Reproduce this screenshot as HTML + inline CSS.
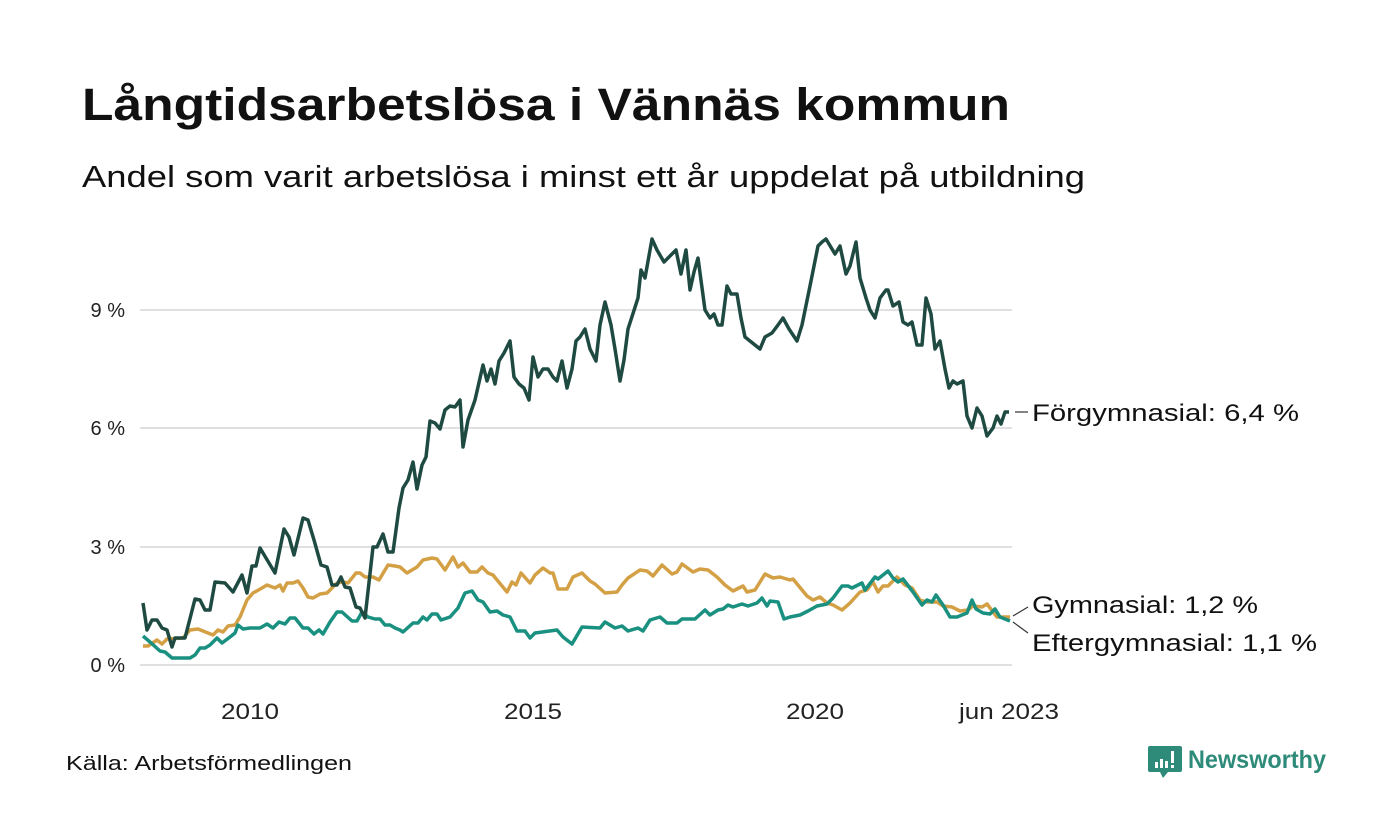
<!DOCTYPE html>
<html><head><meta charset="utf-8"><style>
html,body{margin:0;padding:0;background:#fff;}
svg{display:block;font-family:"Liberation Sans",sans-serif;}
</style></head><body>
<svg width="1400" height="840" viewBox="0 0 1400 840">
<rect width="1400" height="840" fill="#fff"/>
<text x="82" y="120" font-size="45" font-weight="bold" fill="#111" textLength="928" lengthAdjust="spacingAndGlyphs">Långtidsarbetslösa i Vännäs kommun</text>
<text x="82" y="187" font-size="31" fill="#111" textLength="1003" lengthAdjust="spacingAndGlyphs">Andel som varit arbetslösa i minst ett år uppdelat på utbildning</text>
<g stroke="#e0e0e3" stroke-width="2">
<line x1="140" y1="665" x2="1012" y2="665"/>
<line x1="140" y1="547" x2="1012" y2="547"/>
<line x1="140" y1="428" x2="1012" y2="428"/>
<line x1="140" y1="310" x2="1012" y2="310"/>
</g>
<g font-size="20" fill="#222" text-anchor="end">
<text x="125" y="672">0 %</text>
<text x="125" y="554">3 %</text>
<text x="125" y="435">6 %</text>
<text x="125" y="317">9 %</text>
</g>
<g font-size="22" fill="#222" text-anchor="middle">
<text x="250" y="719" textLength="58" lengthAdjust="spacingAndGlyphs">2010</text>
<text x="533" y="719" textLength="58" lengthAdjust="spacingAndGlyphs">2015</text>
<text x="815" y="719" textLength="58" lengthAdjust="spacingAndGlyphs">2020</text>
<text x="1009" y="719" textLength="100" lengthAdjust="spacingAndGlyphs">jun 2023</text>
</g>
<g fill="none" stroke-width="3.5" stroke-linejoin="round">
<polyline stroke="#d4a045" points="143,646 148,646 157,640 162,644 167,639 183,638 190,630 198,629 213,635 218,630 223,632 228,626 235,625 240,617 247,600 253,593 262,588 267,585 275,588 280,585 283,591 287,583 293,583 298,581 303,588 308,597 313,598 320,594 327,593 332,588 337,583 343,582 348,583 356,573 360,573 365,577 373,577 379,580 388,565 395,566 400,567 407,573 417,567 423,560 432,558 437,559 445,570 453,557 458,567 463,563 470,572 477,572 482,567 488,573 493,575 507,592 512,582 516,585 521,573 530,583 535,575 543,568 550,573 553,573 558,589 567,589 573,577 582,573 590,581 595,584 605,593 617,592 622,585 628,578 640,570 647,571 653,576 662,565 672,574 677,572 682,564 693,572 700,569 708,570 717,577 725,585 733,591 743,586 747,592 755,590 765,574 773,578 780,577 790,580 793,579 807,596 813,600 820,597 827,603 833,605 842,610 850,603 860,592 867,590 873,582 878,592 883,586 888,586 897,577 905,585 912,588 920,600 927,602 937,602 943,606 952,607 960,611 968,610 973,606 982,607 987,604 997,617 1010,617"/>
<polyline stroke="#1a9080" points="143,636 150,642 160,651 165,652 172,658 190,658 195,655 200,648 205,648 210,645 217,638 222,643 230,637 235,633 238,625 243,629 250,628 260,628 267,624 273,628 279,622 285,624 290,618 295,618 303,628 308,628 314,634 319,630 323,634 330,622 337,612 342,612 352,621 357,621 362,612 368,617 375,619 380,619 385,625 390,625 395,628 400,630 403,632 413,623 418,623 423,617 427,620 432,614 437,614 441,620 450,617 458,608 465,593 472,591 478,600 483,602 490,612 497,611 503,615 510,617 517,631 525,631 530,638 535,633 557,630 563,637 572,644 582,627 600,628 605,622 615,628 622,626 628,631 638,628 643,631 650,620 660,617 667,623 677,623 682,619 695,619 705,610 710,615 718,610 723,609 728,605 733,607 742,604 748,606 757,603 762,598 767,606 770,601 778,602 784,619 790,617 800,615 808,611 817,606 827,604 833,598 842,586 848,586 852,588 862,583 865,590 875,577 878,579 888,571 893,578 898,582 903,579 913,592 922,605 927,600 932,602 936,595 943,605 950,617 957,617 967,613 972,600 976,609 983,613 990,614 995,609 1000,617 1010,621"/>
<polyline stroke="#1f4a42" points="143,603 147,630 152,620 157,620 162,628 167,630 172,647 175,638 185,638 195,599 200,600 205,610 210,610 215,582 225,583 233,592 242,575 247,593 252,566 256,566 260,548 275,573 284,529 289,537 294,555 303,518 308,520 314,540 321,565 327,567 332,585 337,585 341,577 345,587 350,588 356,607 360,608 365,618 373,547 377,547 383,534 388,552 393,552 399,508 403,488 408,480 413,462 417,489 422,465 426,457 430,421 435,423 440,429 445,410 450,406 455,407 460,400 463,447 468,420 475,400 483,365 487,381 491,369 495,384 499,361 504,353 510,341 514,377 519,384 524,388 529,400 533,357 538,377 543,369 548,369 553,377 557,381 562,361 567,388 572,369 576,341 580,337 585,329 590,349 596,361 600,325 605,302 611,325 615,349 620,381 624,360 628,329 638,298 641,270 645,278 652,239 657,250 664,262 676,250 681,274 686,250 690,290 694,272 698,258 705,310 710,318 714,314 718,325 722,325 727,286 731,294 737,294 741,318 745,337 755,345 760,349 765,337 772,333 778,325 783,318 789,329 797,341 802,325 810,286 818,246 822,242 826,239 835,254 840,246 846,274 850,266 856,242 860,278 866,298 870,310 875,318 880,298 886,290 888,290 893,306 899,302 903,322 908,325 912,322 917,345 922,345 926,298 931,314 935,349 940,341 945,369 949,388 953,381 957,384 963,381 967,416 972,428 977,408 982,416 987,436 993,428 997,416 1001,424 1005,412 1009,412"/>
</g>
<g stroke="#333" stroke-width="1.2">
<line x1="1015" y1="412" x2="1028" y2="412"/>
<line x1="1013" y1="616" x2="1028" y2="607"/>
<line x1="1013" y1="622" x2="1028" y2="633"/>
</g>
<g font-size="24" fill="#111">
<text x="1032" y="421" textLength="267" lengthAdjust="spacingAndGlyphs">Förgymnasial: 6,4 %</text>
<text x="1032" y="613" textLength="226" lengthAdjust="spacingAndGlyphs">Gymnasial: 1,2 %</text>
<text x="1032" y="651" textLength="285" lengthAdjust="spacingAndGlyphs">Eftergymnasial: 1,1 %</text>
</g>
<text x="66" y="770" font-size="20" fill="#111" textLength="286" lengthAdjust="spacingAndGlyphs">Källa: Arbetsförmedlingen</text>
<g>
<path d="M1150,746 h30 a2,2 0 0 1 2,2 v22 a2,2 0 0 1 -2,2 h-12 l-5,6 l-3,-6 h-10 a2,2 0 0 1 -2,-2 v-22 a2,2 0 0 1 2,-2z" fill="#2e8b7a"/>
<rect x="1155" y="762" width="3" height="6" fill="#fff"/>
<rect x="1160" y="759" width="3" height="9" fill="#fff"/>
<rect x="1165" y="761" width="3" height="7" fill="#fff"/>
<rect x="1171" y="751" width="3" height="12" fill="#fff"/>
<rect x="1171" y="765" width="3" height="3" fill="#fff"/>
<text x="1188" y="768" font-size="25" font-weight="bold" fill="#2e8b7a" textLength="138" lengthAdjust="spacingAndGlyphs">Newsworthy</text>
</g>
</svg>
</body></html>
